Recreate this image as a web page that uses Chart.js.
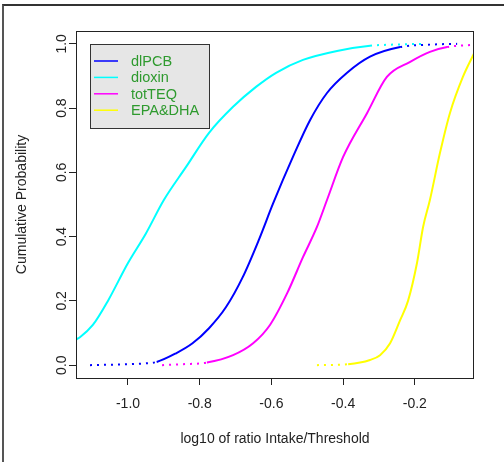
<!DOCTYPE html>
<html>
<head>
<meta charset="utf-8">
<script src="https://cdn.jsdelivr.net/npm/chart.js@4.4.0/dist/chart.umd.min.js"></script>
<style>
  body { margin: 0; background: #fff; }
  #wrap { position: relative; width: 504px; height: 462px; }
  #frame { position: absolute; left: 2px; top: 4px; right: 0; bottom: 0; border-top: 2px solid #333; border-left: 2px solid #555; }
</style>
</head>
<body>
<div id="wrap">
  <div id="frame"></div>
  <canvas id="chart" width="504" height="462"></canvas>
</div>
<script>
// series labels + colours
const seriesNames = ["dlPCB", "dioxin", "totTEQ", "EPA&DHA"];
const seriesColors = ["#0000ff", "#00ffff", "#ff00ff", "#ffff00"];

const dlpcbX = [-1.106, -1.03, -0.96, -0.92, -0.866, -0.82, -0.774, -0.727, -0.68, -0.635, -0.595, -0.54, -0.492, -0.445, -0.389, -0.325, -0.241, -0.15, -0.082];
const dlpcbY = [0, 0.002, 0.005, 0.01, 0.037, 0.068, 0.115, 0.18, 0.274, 0.39, 0.504, 0.648, 0.763, 0.847, 0.91, 0.96, 0.99, 0.998, 1.0];

const dioxinX = [-1.145, -1.134, -1.098, -1.056, -1.0, -0.95, -0.90, -0.838, -0.774, -0.707, -0.643, -0.587, -0.512, -0.417, -0.325, -0.25, -0.177];
const dioxinY = [0.08, 0.087, 0.125, 0.2, 0.318, 0.41, 0.514, 0.617, 0.723, 0.804, 0.866, 0.91, 0.95, 0.978, 0.994, 0.998, 1.0];

const totteqX = [-0.905, -0.846, -0.78, -0.707, -0.651, -0.604, -0.556, -0.512, -0.473, -0.445, -0.40, -0.333, -0.278, -0.213, -0.158, -0.11, -0.035];
const totteqY = [0, 0.003, 0.008, 0.031, 0.068, 0.125, 0.224, 0.336, 0.43, 0.514, 0.648, 0.785, 0.897, 0.944, 0.975, 0.99, 0.997];

const epaX = [-0.473, -0.386, -0.325, -0.297, -0.269, -0.241, -0.219, -0.194, -0.177, -0.158, -0.13, -0.102, -0.066, -0.035];
const epaY = [0, 0.003, 0.016, 0.031, 0.068, 0.14, 0.2, 0.318, 0.43, 0.514, 0.66, 0.785, 0.897, 0.97];

// axis ticks
const xTicks = [-1.0, -0.8, -0.6, -0.4, -0.2];
const yTicks = [0.0, 0.2, 0.4, 0.6, 0.8, 1.0];

const FONT = "'Liberation Sans', Arial, sans-serif";

function pts(xs, ys) {
  return xs.map((x, i) => ({ x: x, y: ys[i] }));
}

const allX = [dlpcbX, dioxinX, totteqX, epaX];
const allY = [dlpcbY, dioxinY, totteqY, epaY];

const datasets = seriesNames.map((name, i) => ({
  label: name,
  data: pts(allX[i], allY[i]),
  borderColor: seriesColors[i],
  backgroundColor: seriesColors[i],
  borderWidth: 2,
  pointRadius: 0,
  showLine: true,
  cubicInterpolationMode: "monotone",
  segment: {
    // sparse dots at the tails of the ecdf
    borderDash: (ctx) => (ctx.p1.parsed.y <= 0.01 || ctx.p0.parsed.y >= 0.99) ? [2, 5] : undefined,
  },
}));

// box around plot + rotated y tick labels + legend box
const rPlot = {
  id: "rPlot",
  afterDraw(chart) {
    const { ctx, chartArea } = chart;
    ctx.save();
    ctx.strokeStyle = "#222";
    ctx.lineWidth = 1;
    ctx.strokeRect(chartArea.left + 0.5, chartArea.top + 0.5, chartArea.right - chartArea.left - 1, chartArea.bottom - chartArea.top);

    // y tick labels, parallel to the axis
    const ys = chart.scales.y;
    ctx.fillStyle = "#222";
    ctx.font = "14px " + FONT;
    ctx.textAlign = "center";
    ctx.textBaseline = "middle";
    yTicks.forEach((v) => {
      const py = ys.getPixelForValue(v);
      ctx.save();
      ctx.translate(62, py);
      ctx.rotate(-Math.PI / 2);
      ctx.fillText(v.toFixed(1), 0, 0);
      ctx.restore();
    });

    // legend
    const lx = 90, ly = 44, lw = 119, lh = 84;
    ctx.fillStyle = "#e6e6e6";
    ctx.fillRect(lx, ly, lw, lh);
    ctx.strokeStyle = "#333";
    ctx.strokeRect(lx + 0.5, ly + 0.5, lw, lh);
    ctx.textAlign = "left";
    ctx.font = "14.5px " + FONT;
    chart.data.datasets.forEach((ds, i) => {
      const ry = 61 + i * 16.4;
      ctx.strokeStyle = ds.borderColor;
      ctx.lineWidth = 1.5;
      ctx.beginPath();
      ctx.moveTo(94, ry);
      ctx.lineTo(118, ry);
      ctx.stroke();
      ctx.fillStyle = "#2e9a2e";
      ctx.fillText(ds.label, 131, ry + 1);
    });
    ctx.restore();
  },
};

new Chart(document.getElementById("chart"), {
  type: "scatter",
  data: { datasets: datasets },
  options: {
    responsive: false,
    animation: false,
    layout: { padding: { left: 0, top: 31, right: 30, bottom: 0 } },
    plugins: {
      legend: { display: false },
      tooltip: { enabled: false },
    },
    scales: {
      x: {
        type: "linear",
        min: -1.145,
        max: -0.035,
        afterBuildTicks: (scale) => { scale.ticks = xTicks.map((v) => ({ value: v })); },
        afterFit: (scale) => { scale.height = 84; },
        border: { display: false },
        grid: { drawOnChartArea: false, drawTicks: true, tickLength: 7, tickColor: "#222", color: "#222" },
        ticks: {
          color: "#222",
          font: { family: FONT, size: 14 },
          padding: 11,
          maxRotation: 0,
          callback: (v) => Number(v).toFixed(1),
        },
        title: {
          display: true,
          text: "log10 of ratio Intake/Threshold",
          color: "#222",
          font: { family: FONT, size: 14 },
          padding: { top: 0, bottom: 14 },
        },
      },
      y: {
        type: "linear",
        min: -0.04,
        max: 1.04,
        afterBuildTicks: (scale) => { scale.ticks = yTicks.map((v) => ({ value: v })); },
        afterFit: (scale) => { scale.width = 76; },
        border: { display: false },
        grid: { drawOnChartArea: false, drawTicks: true, tickLength: 7, tickColor: "#222", color: "#222" },
        ticks: { display: false },
        title: {
          display: true,
          text: "Cumulative Probability",
          color: "#222",
          font: { family: FONT, size: 14 },
          padding: { top: 14, bottom: 0 },
        },
      },
    },
  },
  plugins: [rPlot],
});
</script>
</body>
</html>
